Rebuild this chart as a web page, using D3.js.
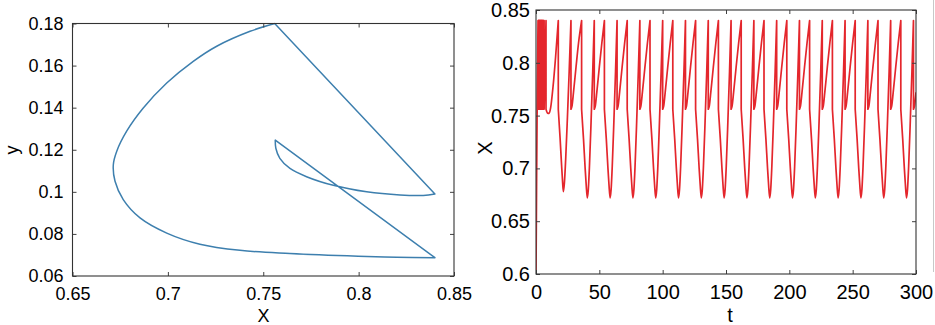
<!DOCTYPE html>
<html>
<head>
<meta charset="utf-8">
<script src="https://cdn.jsdelivr.net/npm/d3@7"></script>
<style>
  body { margin: 0; background: #fff; }
  text { font-family: "Liberation Sans", Arial, sans-serif; fill: #000; }
</style>
</head>
<body>
<svg id="chart" width="935" height="325"></svg>
<script>

// ---- data ----

// left panel: phase portrait (X, y), two flow arcs joined by impulsive jumps
var phaseXTicks = [0.65, 0.7, 0.75, 0.8, 0.85];
var phaseYTicks = [0.06, 0.08, 0.1, 0.12, 0.14, 0.16, 0.18];

var outerArc = [
  [0.7560, 0.1800], [0.7431, 0.1763], [0.7256, 0.1692], [0.7133, 0.1620],
  [0.6994, 0.1517], [0.6871, 0.1398], [0.6784, 0.1288], [0.6732, 0.1193],
  [0.6714, 0.1129], [0.6723, 0.1050], [0.6766, 0.0963], [0.6854, 0.0876],
  [0.6994, 0.0804], [0.7168, 0.0751], [0.7378, 0.0722], [0.7640, 0.0707],
  [0.7998, 0.0694], [0.8200, 0.0689], [0.8400, 0.0687]
];
var innerArc = [
  [0.7563, 0.1246], [0.7566, 0.1207], [0.7587, 0.1159], [0.7640, 0.1111],
  [0.7727, 0.1072], [0.7867, 0.1031], [0.8042, 0.1000], [0.8217, 0.0985],
  [0.8339, 0.0983], [0.8400, 0.0990]
];

// right panel: X against t; a repeated t is a jump
var timeTicks = [0, 50, 100, 150, 200, 250, 300];
var xTicks = [0.6, 0.65, 0.7, 0.75, 0.8, 0.85];

var timeSeries = [
  [0,.600],[0.5,.690],[1.0,.770],[1.6,.840],
  [1.6,.756],[1.85,.84],[1.85,.756],[2.1,.84],[2.1,.756],[2.35,.84],[2.35,.756],[2.6,.84],
  [2.6,.756],[2.85,.84],[2.85,.756],[3.1,.84],[3.1,.756],[3.35,.84],[3.35,.756],[3.6,.84],
  [3.6,.756],[3.85,.84],[3.85,.756],[4.1,.84],[4.1,.756],[4.35,.84],[4.35,.756],[4.6,.84],
  [4.6,.756],[4.85,.84],[4.85,.756],[5.1,.84],[5.1,.756],[5.4,.84],[5.4,.756],[5.7,.84],
  [5.7,.756],[6.0,.84],[6.0,.756],[6.4,.84],[6.4,.756],[7.9,.84],
  [7.9,.756],[9.0,.7525],[10.3,.752],[11.5,.757],[13.5,.778],[15.5,.806],[17.6,.84],
  [17.6,.756],[19.0,.729],[20.2,.703],[20.9,.689],[21.6,.678],[22.4,.686],[23.4,.708],[24.8,.748],[26.2,.792],[27.6,.84],
  [27.6,.756],[28.4,.759],[29.6,.772],[31.6,.796],[33.6,.819],[36,.84],
  [36,.756],[37.5,.728],[38.8,.700],[39.6,.685],[40.5,.672],[41.3,.680],[42.2,.702],[43.5,.745],[44.8,.792],[46,.84],
  [46,.756],[46.8,.759],[48,.772],[50,.796],[52,.819],[54,.84],
  [54,.756],[55.5,.728],[56.8,.700],[57.6,.685],[58.5,.672],[59.3,.680],[60.2,.702],[61.5,.745],[62.8,.792],[64,.84],
  [64,.756],[64.8,.759],[66,.772],[68,.796],[70,.819],[72,.84],
  [72,.756],[73.5,.728],[74.8,.700],[75.6,.685],[76.5,.672],[77.3,.680],[78.2,.702],[79.5,.745],[80.8,.792],[82,.84],
  [82,.756],[82.8,.759],[84,.772],[86,.796],[88,.819],[90,.84],
  [90,.756],[91.5,.728],[92.8,.700],[93.6,.685],[94.5,.672],[95.3,.680],[96.2,.702],[97.5,.745],[98.8,.792],[100,.84],
  [100,.756],[100.8,.759],[102,.772],[104,.796],[106,.819],[108,.84],
  [108,.756],[109.5,.728],[110.8,.700],[111.6,.685],[112.5,.672],[113.3,.680],[114.2,.702],[115.5,.745],[116.8,.792],[118,.84],
  [118,.756],[118.8,.759],[120,.772],[122,.796],[124,.819],[126,.84],
  [126,.756],[127.5,.728],[128.8,.700],[129.6,.685],[130.5,.672],[131.3,.680],[132.2,.702],[133.5,.745],[134.8,.792],[136,.84],
  [136,.756],[136.8,.759],[138,.772],[140,.796],[142,.819],[144,.84],
  [144,.756],[145.5,.728],[146.8,.700],[147.6,.685],[148.5,.672],[149.3,.680],[150.2,.702],[151.5,.745],[152.8,.792],[154,.84],
  [154,.756],[154.8,.759],[156,.772],[158,.796],[160,.819],[162,.84],
  [162,.756],[163.5,.728],[164.8,.700],[165.6,.685],[166.5,.672],[167.3,.680],[168.2,.702],[169.5,.745],[170.8,.792],[172,.84],
  [172,.756],[172.8,.759],[174,.772],[176,.796],[178,.819],[180,.84],
  [180,.756],[181.5,.728],[182.8,.700],[183.6,.685],[184.5,.672],[185.3,.680],[186.2,.702],[187.5,.745],[188.8,.792],[190,.84],
  [190,.756],[190.8,.759],[192,.772],[194,.796],[196,.819],[198,.84],
  [198,.756],[199.5,.728],[200.8,.700],[201.6,.685],[202.5,.672],[203.3,.680],[204.2,.702],[205.5,.745],[206.8,.792],[208,.84],
  [208,.756],[208.8,.759],[210,.772],[212,.796],[214,.819],[216,.84],
  [216,.756],[217.5,.728],[218.8,.700],[219.6,.685],[220.5,.672],[221.3,.680],[222.2,.702],[223.5,.745],[224.8,.792],[226,.84],
  [226,.756],[226.8,.759],[228,.772],[230,.796],[232,.819],[234,.84],
  [234,.756],[235.5,.728],[236.8,.700],[237.6,.685],[238.5,.672],[239.3,.680],[240.2,.702],[241.5,.745],[242.8,.792],[244,.84],
  [244,.756],[244.8,.759],[246,.772],[248,.796],[250,.819],[252,.84],
  [252,.756],[253.5,.728],[254.8,.700],[255.6,.685],[256.5,.672],[257.3,.680],[258.2,.702],[259.5,.745],[260.8,.792],[262,.84],
  [262,.756],[262.8,.759],[264,.772],[266,.796],[268,.819],[270,.84],
  [270,.756],[271.5,.728],[272.8,.700],[273.6,.685],[274.5,.672],[275.3,.680],[276.2,.702],[277.5,.745],[278.8,.792],[280,.84],
  [280,.756],[280.8,.759],[282,.772],[284,.796],[286,.819],[288,.84],
  [288,.756],[289.5,.728],[290.8,.700],[291.6,.685],[292.5,.672],[293.3,.680],[294.2,.702],[295.5,.745],[296.8,.792],[298,.84],
  [298,.756],[298.8,.759],[300,.772]
];


var svg = d3.select("#chart");
var FONT = '"Liberation Sans", Arial, sans-serif';

// draw a boxed MATLAB-like frame with inward ticks on all four sides
function draw_frame(g, x, y, xt, yt, opts) {
    var w = x.range()[1] - x.range()[0], h = y.range()[0] - y.range()[1];
    var fmt = function(d) { return String(d); };

    g.append("g").attr("transform", "translate(0," + h + ")")
        .call(d3.axisBottom(x).tickValues(xt).tickFormat(fmt)
              .tickSizeInner(-4).tickSizeOuter(0).tickPadding(opts.xpad));
    g.append("g")
        .call(d3.axisTop(x).tickValues(xt).tickFormat("")
              .tickSizeInner(-4).tickSizeOuter(0));
    g.append("g")
        .call(d3.axisLeft(y).tickValues(yt).tickFormat(fmt)
              .tickSizeInner(-4).tickSizeOuter(0).tickPadding(opts.ypad));
    g.append("g").attr("transform", "translate(" + w + ",0)")
        .call(d3.axisRight(y).tickValues(yt).tickFormat("")
              .tickSizeInner(-4).tickSizeOuter(0));

    g.selectAll(".domain").remove();
    g.selectAll(".tick line").attr("stroke", "#404040");
    g.selectAll(".tick text").style("font-family", FONT)
        .style("font-size", opts.fs + "px").attr("fill", "#000");

    g.append("rect").attr("width", w).attr("height", h)
        .attr("fill", "none").attr("stroke", "#333").attr("stroke-width", 1.1);
}


/* left: phase portrait */
var L = {left: 72.5, top: 23.5, right: 454, bottom: 276};
var px = d3.scaleLinear().domain([0.65, 0.85]).range([0, L.right - L.left]);
var py = d3.scaleLinear().domain([0.06, 0.18]).range([L.bottom - L.top, 0]);

var gl = svg.append("g").attr("transform", "translate(" + L.left + "," + L.top + ")");

var phaseLine = d3.line()
    .x(function(d) { return px(d[0]); })
    .y(function(d) { return py(d[1]); })
    .curve(d3.curveCatmullRom.alpha(0.5));

var dPhase = phaseLine(outerArc) + "L" + phaseLine(innerArc).slice(1)
    + "L" + px(outerArc[0][0]) + "," + py(outerArc[0][1]);

gl.append("path").attr("d", dPhase)
    .attr("fill", "none").attr("stroke", "#3d7fae").attr("stroke-width", 1.5)
    .attr("stroke-linejoin", "round");

draw_frame(gl, px, py, phaseXTicks, phaseYTicks, {xpad: 11, ypad: 9, fs: 18});

svg.append("text").attr("x", 263.5).attr("y", 322)
    .attr("text-anchor", "middle").style("font-size", "18px").text("X");
svg.append("text").attr("transform", "translate(18,150) rotate(-90)")
    .attr("text-anchor", "middle").style("font-size", "18px").text("y");


/* right: time series */
var R = {left: 536, top: 10, right: 916, bottom: 274};
var tx = d3.scaleLinear().domain([0, 300]).range([0, R.right - R.left]);
var ty = d3.scaleLinear().domain([0.6, 0.85]).range([R.bottom - R.top, 0]);

var gr = svg.append("g").attr("transform", "translate(" + R.left + "," + R.top + ")");

gr.append("clipPath").attr("id", "clipR").append("rect")
    .attr("width", R.right - R.left).attr("height", R.bottom - R.top);

// split at repeated t, smooth each flow piece, join pieces with straight jumps
var pieces = [], cur = [];
timeSeries.forEach(function(p, i) {
    if (i > 0 && p[0] === timeSeries[i - 1][0]) { pieces.push(cur); cur = []; }
    cur.push(p);
});
pieces.push(cur);

var tsLine = d3.line()
    .x(function(d) { return tx(d[0]); })
    .y(function(d) { return ty(d[1]); })
    .curve(d3.curveMonotoneX);

var dTs = pieces.map(function(seg, i) {
    var s = tsLine(seg);
    return i ? "L" + s.slice(1) : s;
}).join("");

gr.append("path").attr("d", dTs).attr("clip-path", "url(#clipR)")
    .attr("fill", "none").attr("stroke", "#e4262c").attr("stroke-width", 1.7)
    .attr("stroke-linejoin", "round");

draw_frame(gr, tx, ty, timeTicks, xTicks, {xpad: 11, ypad: 6, fs: 20});

svg.append("text").attr("x", 730).attr("y", 322)
    .attr("text-anchor", "middle").style("font-size", "20px").text("t");
svg.append("text").attr("transform", "translate(492,148) rotate(-90)")
    .attr("text-anchor", "middle").style("font-size", "20px").text("X");

// thin border line at the far right of the picture
svg.append("line").attr("x1", 933.5).attr("x2", 933.5).attr("y1", 0).attr("y2", 272)
    .attr("stroke", "#c8c8c8").attr("stroke-width", 1);

</script>
</body>
</html>
